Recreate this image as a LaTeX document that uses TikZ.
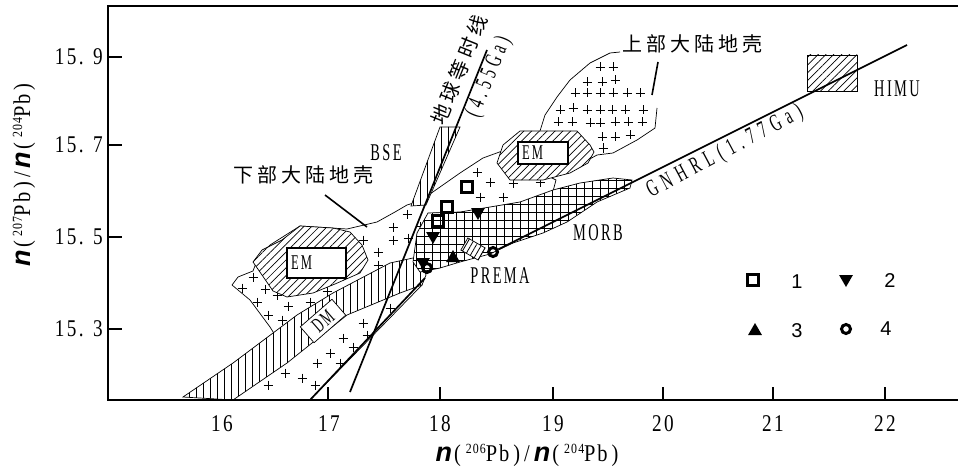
\documentclass[tikz,border=0pt]{standalone}
\usepackage{fontspec}
\setmainfont{Liberation Serif}
\newfontfamily\cjkf[LetterSpace=20]{Noto Sans CJK SC}
\newfontfamily\labf[FakeStretch=0.6,LetterSpace=10]{Liberation Serif}
\newfontfamily\numf[FakeStretch=0.8,LetterSpace=10]{Liberation Serif}
\newfontfamily\axf[FakeStretch=0.85,LetterSpace=8]{Liberation Serif}
\newfontfamily\sansf{Liberation Sans}
\usetikzlibrary{patterns.meta,shapes.geometric}
\newcommand\nvar{{\sansf\bfseries\itshape\fontsize{27}{27}\selectfont n}}
\newcommand\supn[1]{\raisebox{8pt}{\fontsize{14}{14}\selectfont #1}}
\newcommand\isoratio[2]{\nvar{\axf\fontsize{24}{24}\selectfont\hspace{2pt}(\hspace{5pt}\supn{#1}Pb\hspace{4pt})\hspace{4pt}/\hspace{4pt}}\nvar{\axf\fontsize{24}{24}\selectfont\hspace{2pt}(\hspace{5pt}\supn{#2}Pb\hspace{4pt})}}
\tikzset{
  every node/.style={inner sep=0pt},
  frameline/.style={line width=2.6pt},
  tickline/.style={line width=1.6pt},
  thinout/.style={line width=0.7pt},
  crustfill/.style={thinout, fill=white},
  diaghatch/.style={thinout, preaction={fill=white}, pattern={Lines[angle=45,distance=5.5pt,line width=0.7pt]}},
  vhatch/.style={thinout, preaction={fill=white}, pattern={Lines[angle=90,distance=7pt,line width=0.9pt]}},
  gridhatch/.style={thinout, preaction={fill=white}, pattern={Hatch[angle=0,distance=8pt,line width=0.6pt]}},
  isoline/.style={line width=1.7pt},
  leader/.style={line width=1.6pt},
  ticklab/.style={font=\numf\fontsize{24}{24}\selectfont},
  fieldlab/.style={font=\labf\fontsize{24}{24}\selectfont},
  cjklab/.style={font=\cjkf\fontsize{20}{20}\selectfont},
  embox/.style={draw, line width=1.8pt, fill=white, inner xsep=4pt, align=left, font=\labf\fontsize{21}{21}\selectfont},
  sqmk/.style={draw, line width=3.2pt, minimum size=11pt},
  dnmk/.style={regular polygon, regular polygon sides=3, shape border rotate=180, fill=black, minimum size=16pt},
  upmk/.style={regular polygon, regular polygon sides=3, fill=black, minimum size=16pt},
  cirmk/.style={circle, draw, line width=3pt, minimum size=9pt},
  plusmk/.pic={\draw[line width=0.7pt] (-4.5,0)--(4.5,0) (0,-4.5)--(0,4.5);},
}
\begin{document}
\begin{tikzpicture}[x=1pt,y=-1pt]
\useasboundingbox (0,0) rectangle (958,476);
\fill[white] (0,0) rectangle (958,476);

% lower continental crust
\draw[crustfill] (232,285) -- (238,277) -- (253,271) -- (258,258) -- (270,245) -- (300,226) -- (347,229) -- (377,222) -- (395,212) -- (407,205) -- (420,201) -- (440,187) -- (460,173) -- (483,158) -- (505,150) -- (540,172) -- (556,180) -- (552,195) -- (470,240) -- (426,270) -- (422,285) -- (310,400) -- (215,400) -- (275,335) -- (270,327) -- (250,300) -- cycle;

% upper continental crust outline
\draw[thinout] (620,52) -- (610,53) -- (590,63) -- (570,80) -- (557,97) -- (545,115) -- (540,131);
\draw[thinout] (657,108) -- (655,128) -- (637,140) -- (613,153) -- (597,155) -- (588,160);

% crosses
\foreach \x/\y in {253/277,242/288,265/289,257/302,277/295,268/315,282/320,288/306,310/302,327/291,
  363/240,378/252,378/265,393/227,393/240,407/214,408/238,420/226,
  268/385,285/373,302/378,317/363,330/353,343/338,353/347,363/323,367/335,315/385,340/363,390/308,
  477/172,490/182,503/197,513/183,540/182,480/197,
  600/67,613/67,587/82,602/82,615/80,575/93,587/93,600/93,613/93,627/93,640/93,
  560/110,573/108,587/110,600/110,612/110,625/110,643/110,558/122,572/122,590/123,600/123,615/122,628/122,642/122,
  602/137,615/137,630/135,603/148}
  \pic at (\x,\y) {plusmk};

% DM band
\draw[vhatch] (183,397) -- (233,363) -- (297,315) -- (333,293) -- (390,263) -- (413,258) -- (422,262) -- (426,275) -- (422,285) -- (400,293) -- (347,315) -- (287,363) -- (233,400) -- cycle;

% MORB field
\draw[gridhatch] (417,233) -- (428,213) -- (460,212) -- (490,207) -- (520,202) -- (553,190) -- (580,183) -- (613,178) -- (632,180) -- (630,188) -- (597,202) -- (567,222) -- (543,233) -- (513,243) -- (490,254) -- (460,262) -- (440,268) -- (420,272) -- (413,262) -- cycle;

% EM fields
\draw[diaghatch] (253,262) -- (262,250) -- (282,240) -- (300,226) -- (333,228) -- (350,232) -- (362,245) -- (368,260) -- (360,273) -- (335,284) -- (313,293) -- (287,297) -- (273,291) -- (262,275) -- cycle;
\draw[diaghatch] (497,163) -- (503,145) -- (520,131) -- (577,131) -- (590,145) -- (594,152) -- (588,163) -- (570,173) -- (543,180) -- (510,180) -- cycle;

% BSE band
\draw[vhatch] (411,206) -- (440,127) -- (460,127) -- (426,205) -- cycle;

% lines
\coordinate (geoA) at (350,392);
\coordinate (geoB) at (487,50);
\coordinate (lnA1) at (310,400);
\coordinate (lnA2) at (425,278);
\draw[isoline] (geoA) -- (geoB);
\draw[isoline] (lnA1) -- (lnA2);

% HIMU box
\node[diaghatch, draw, minimum width=50pt, minimum height=36pt] (himu) at (832,73) {};

% PREMA box
\node[thinout, draw, preaction={fill=white}, pattern={Lines[angle=60,distance=4.5pt,line width=0.8pt]}, minimum width=20pt, minimum height=14pt, rotate=-30] (prema) at (473,249) {};

% DM box
\node[draw, thinout, fill=white, minimum width=42pt, minimum height=21pt, rotate=41, font=\labf\fontsize{21}{21}\selectfont] (dm) at (323,321) {DM};

% EM boxes
\node[embox, text width=51pt, minimum height=30pt] (em1) at (316.5,263) {EM};
\node[embox, text width=42pt, minimum height=22pt] (em2) at (543,153) {EM};

% GNHRL line
\node[cirmk] (c2) at (493,252) {};
\coordinate (gnEnd) at (907,45);
\draw[isoline] (c2) -- (gnEnd);

% data markers
\node[sqmk] (s1) at (467,187) {};
\node[sqmk] (s2) at (447,207) {};
\node[sqmk] (s3) at (438,221) {};
\node[dnmk] (d1) at (478,212) {};
\node[dnmk] (d2) at (433,236) {};
\node[dnmk] (d3) at (423,262) {};
\node[upmk] (u1) at (453,258) {};
\node[cirmk] (c1) at (427,268) {};

% labels
\node[cjklab] (upc) at (692,44) {上部大陆地壳};
\coordinate (upcA) at (658,62);
\coordinate (upcB) at (652,95);
\draw[leader] (upcA) -- (upcB);
\node[cjklab] (loc) at (303,175) {下部大陆地壳};
\coordinate (locA) at (325,195);
\coordinate (locB) at (367,227);
\draw[leader] (locA) -- (locB);
\node[fieldlab] (bse) at (386,153) {BSE};
\node[cjklab, rotate=68] (geoc) at (459,70) {地球等时线};
\node[fieldlab, rotate=68, font=\labf\fontsize{24}{24}\selectfont\addfontfeature{LetterSpace=20}] (geot) at (489,77) {(4.55Ga)};
\node[fieldlab, rotate=28, font=\labf\fontsize{24}{24}\selectfont\addfontfeature{LetterSpace=25}] (gnh) at (725,152) {GNHRL(1.77Ga)};
\node[fieldlab] (himul) at (897,89) {HIMU};
\node[fieldlab] (morb) at (598,233) {MORB};
\node[fieldlab] (preml) at (500,276) {PREMA};

% legend
\node[sqmk] (lg1) at (753,280) {};
\node[font=\sansf\fontsize{20}{20}\selectfont] (lg1t) at (797,282) {1};
\node[dnmk] (lg2) at (846,279) {};
\node[font=\sansf\fontsize{20}{20}\selectfont] (lg2t) at (890,281) {2};
\node[upmk] (lg3) at (755,331) {};
\node[font=\sansf\fontsize{20}{20}\selectfont] (lg3t) at (797,331) {3};
\node[cirmk] (lg4) at (846,329) {};
\node[font=\sansf\fontsize{20}{20}\selectfont] (lg4t) at (886,329) {4};

% frame and ticks
\draw[frameline] (958,6) -- (108,6) -- (108,400) -- (958,400);
\foreach \yy/\lab in {57/15. 9,145/15. 7,237/15. 5,329/15. 3}{
  \draw[tickline] (108,\yy) -- (122,\yy);
  \node[ticklab, anchor=east] at (103,\yy) {\lab};
}
\foreach \xx in {328,440,553,663,773,885}{
  \draw[tickline] (\xx,400) -- (\xx,387);
}
\foreach \xx/\lab in {222/16,329/17,440/18,553/19,663/20,773/21,885/22}{
  \node[ticklab] at (\xx,424) {\lab};
}

% axis titles
\node[rotate=90] (ylab) at (24,175) {\isoratio{207}{204}};
\node (xlab) at (527,455) {\isoratio{206}{204}};
\end{tikzpicture}
\end{document}
